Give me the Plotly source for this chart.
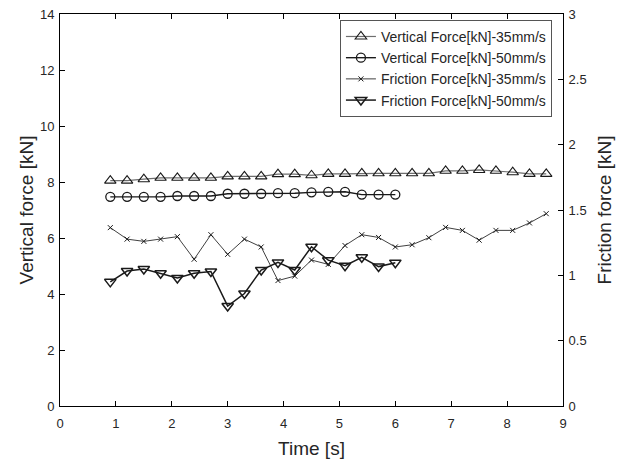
import plotly.graph_objects as go

# Sampling times [s]
time_35 = [0.9, 1.2, 1.5, 1.8, 2.1, 2.4, 2.7, 3.0, 3.3, 3.6, 3.9, 4.2, 4.5, 4.8,
           5.1, 5.4, 5.7, 6.0, 6.3, 6.6, 6.9, 7.2, 7.5, 7.8, 8.1, 8.4, 8.7]
time_50 = [0.9, 1.2, 1.5, 1.8, 2.1, 2.4, 2.7, 3.0, 3.3, 3.6, 3.9, 4.2, 4.5, 4.8,
           5.1, 5.4, 5.7, 6.0]

# Vertical force [kN] (left axis)
vertical_35 = [8.05, 8.05, 8.10, 8.15, 8.15, 8.15, 8.15, 8.20, 8.20, 8.20, 8.28, 8.28,
               8.24, 8.29, 8.29, 8.31, 8.31, 8.31, 8.31, 8.31, 8.40, 8.40, 8.43, 8.40,
               8.35, 8.29, 8.29]
vertical_50 = [7.47, 7.47, 7.47, 7.47, 7.50, 7.50, 7.50, 7.58, 7.58, 7.58, 7.60, 7.60,
               7.63, 7.65, 7.65, 7.55, 7.55, 7.55]

# Friction force [kN] (right axis)
friction_35 = [1.365, 1.277, 1.260, 1.277, 1.296, 1.123, 1.311, 1.161, 1.277, 1.217,
               0.960, 0.994, 1.117, 1.084, 1.228, 1.311, 1.290, 1.217, 1.234, 1.288,
               1.367, 1.344, 1.269, 1.344, 1.344, 1.401, 1.472]
friction_50 = [0.950, 1.033, 1.048, 1.016, 0.979, 1.016, 1.029, 0.765, 0.861, 1.041,
               1.099, 1.041, 1.219, 1.116, 1.074, 1.138, 1.067, 1.097]

series_names = ["Vertical Force[kN]-35mm/s", "Vertical Force[kN]-50mm/s",
                "Friction Force[kN]-35mm/s", "Friction Force[kN]-50mm/s"]

FONT = "Liberation Sans, Arial, sans-serif"
TEXT = "#262626"

fig = go.Figure()
fig.add_trace(go.Scatter(
    x=time_35, y=vertical_35, name=series_names[0], mode="lines+markers",
    line=dict(color="#6e6e6e", width=1.2),
    marker=dict(symbol="triangle-up-open", size=10, color="#1a1a1a",
                line=dict(width=1.1)),
))
fig.add_trace(go.Scatter(
    x=time_50, y=vertical_50, name=series_names[1], mode="lines+markers",
    line=dict(color="#1a1a1a", width=1.4),
    marker=dict(symbol="circle-open", size=9, color="#1a1a1a",
                line=dict(width=1.3)),
))
fig.add_trace(go.Scatter(
    x=time_35, y=friction_35, name=series_names[2], mode="lines+markers",
    yaxis="y2",
    line=dict(color="#2a2a2a", width=0.9),
    marker=dict(symbol="x-thin-open", size=5, color="#1a1a1a",
                line=dict(width=1)),
))
fig.add_trace(go.Scatter(
    x=time_50, y=friction_50, name=series_names[3], mode="lines+markers",
    yaxis="y2",
    line=dict(color="#1a1a1a", width=1.5),
    marker=dict(symbol="triangle-down-open", size=10, color="#1a1a1a",
                line=dict(width=1.5)),
))

axis_common = dict(
    showline=True, linecolor="black", linewidth=1,
    ticks="inside", ticklen=5, tickcolor="black", tickwidth=1,
    showgrid=False, zeroline=False, automargin=False,
    tickfont=dict(family=FONT, size=13, color=TEXT),
)

fig.update_layout(
    width=625, height=459,
    margin=dict(l=60, r=62, t=14, b=53),
    paper_bgcolor="white", plot_bgcolor="white",
    font=dict(family=FONT, color=TEXT),
    xaxis=dict(
        range=[0, 9], dtick=1, tick0=0, mirror="ticks",
        title=dict(text="Time [s]", font=dict(family=FONT, size=19, color=TEXT),
                   standoff=13),
        ticklabelstandoff=5,
        **axis_common,
    ),
    yaxis=dict(
        range=[0, 14], dtick=2, tick0=0,
        title=dict(text="Vertical force [kN]",
                   font=dict(family=FONT, size=19, color=TEXT), standoff=1),
        ticklabelstandoff=2,
        **axis_common,
    ),
    yaxis2=dict(
        range=[0, 3], dtick=0.5, tick0=0, overlaying="y", side="right",
        title=dict(text="Friction force [kN]",
                   font=dict(family=FONT, size=19, color=TEXT), standoff=12),
        ticklabelstandoff=2,
        **axis_common,
    ),
    legend=dict(
        x=0.978, y=0.985, xanchor="right", yanchor="top",
        bgcolor="white", bordercolor="#555555", borderwidth=1,
        font=dict(family=FONT, size=14, color=TEXT),
        tracegroupgap=0,
    ),
    showlegend=True,
)

fig.write_html("out.html")
